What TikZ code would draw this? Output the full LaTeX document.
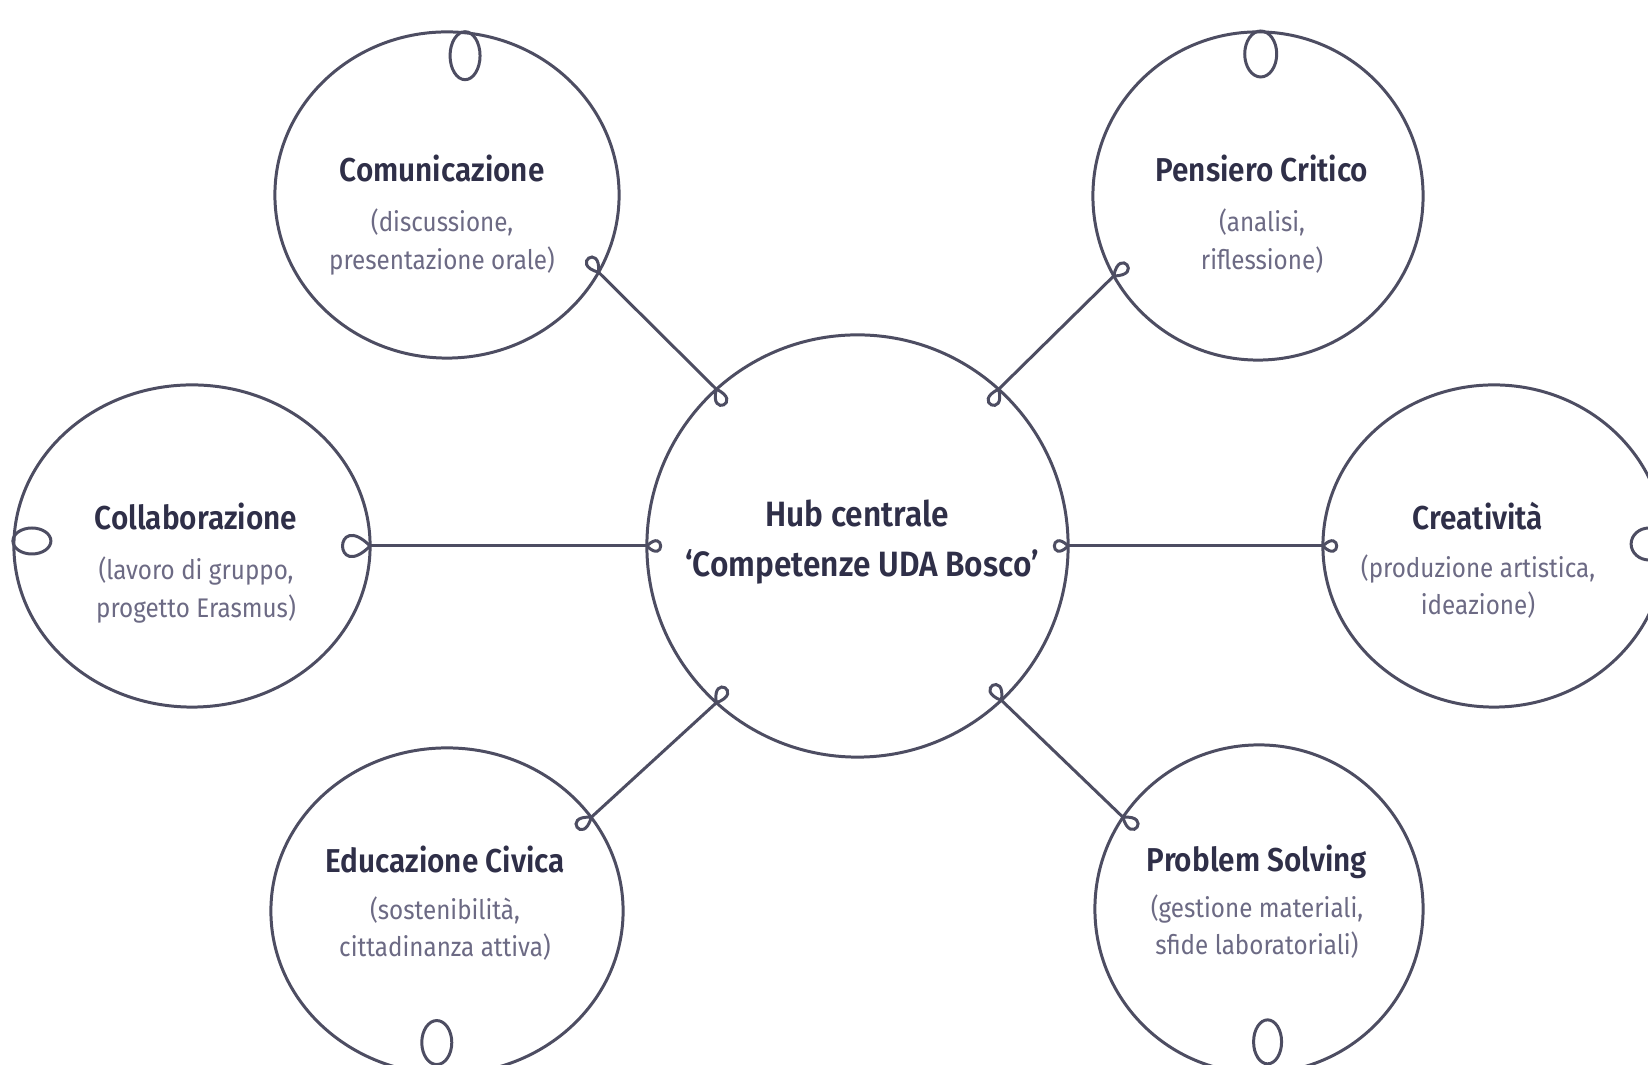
\documentclass[tikz,border=0pt]{standalone}
\usepackage{fontspec}
\IfFontExistsTF{Fira Sans SemiBold}
  {\setmainfont{Fira Sans}[FakeStretch=0.9, BoldFont={Fira Sans SemiBold}]}
  {\setmainfont{Fira Sans}[FakeStretch=0.9]}
\usetikzlibrary{shapes.geometric}
\definecolor{ink}{HTML}{4D4D62}
\definecolor{titlec}{HTML}{2F2F48}
\definecolor{subc}{HTML}{6C6A84}
% #1 point, #2 page angle of the curl, #3 control length, #4 half spread
\newcommand{\myloop}[4]{\draw[ln] (#1) .. controls +({-(#2)+(#4)}:#3) and +({-(#2)-(#4)}:#3) .. (#1);}
% #1 point on the border, #2 offset of the curl centre, #3 x radius, #4 y radius
\newcommand{\mycurl}[4]{\draw[ln, shift={(#1)}] (#2) ellipse [x radius=#3, y radius=#4];}
\begin{document}
\begin{tikzpicture}[x=0.01cm, y=-0.01cm,
  ln/.style={draw=ink, line width=0.85pt},
  bub/.style={ellipse, draw=ink, line width=0.85pt, inner sep=0pt, outer sep=0pt},
  ttl/.style={font=\bfseries\fontsize{9.4}{11}\selectfont, text=titlec, anchor=base, inner sep=0pt},
  hubt/.style={font=\bfseries\fontsize{10}{12}\selectfont, text=titlec, anchor=base, inner sep=0pt},
  subtxt/.style={font=\fontsize{7.65}{9}\selectfont, text=subc, anchor=base, inner sep=0pt}]
\clip (0,0) rectangle (1648,1065);
\fill[white] (0,0) rectangle (1648,1065);

% bubbles
\node[bub, minimum width=4.21cm, minimum height=4.22cm] (hub) at (857.5,546) {};
\node[bub, minimum width=3.44cm, minimum height=3.26cm] (com) at (447,195) {};
\node[bub, minimum width=3.30cm, minimum height=3.28cm] (pen) at (1258,196) {};
\node[bub, minimum width=3.56cm, minimum height=3.22cm] (col) at (192,546) {};
\node[bub, minimum width=3.42cm, minimum height=3.22cm] (cre) at (1494,546) {};
\node[bub, minimum width=3.52cm, minimum height=3.26cm] (edu) at (447,911) {};
\node[bub, minimum width=3.28cm, minimum height=3.28cm] (pro) at (1259,909) {};

% connectors
\draw[ln] (com.-27) -- (hub.132);
\draw[ln] (pen.209) -- (hub.48);
\draw[ln] (col.east) -- (hub.west);
\draw[ln] (hub.east) -- (cre.west);
\draw[ln] (edu.33) -- (hub.228);
\draw[ln] (pro.146) -- (hub.313);

% small curls at the junctions
\myloop{com.-27}{125}{30}{40}
\myloop{hub.132}{-65}{30}{40}
\myloop{pen.209}{40}{30}{40}
\myloop{hub.48}{-115}{30}{40}
\myloop{col.east}{180}{52}{45}
\myloop{hub.west}{0}{26}{45}
\myloop{hub.east}{180}{26}{45}
\myloop{cre.west}{0}{26}{45}
\myloop{edu.33}{215}{30}{40}
\myloop{hub.228}{60}{30}{40}
\myloop{pro.146}{-35}{30}{40}
\myloop{hub.313}{120}{30}{40}

% big curls
\mycurl{com.84}{1,23}{15}{24}
\mycurl{pen.88}{-3,22}{16}{23}
\mycurl{col.west}{18,-5}{19}{13}
\mycurl{cre.east}{-16,-2}{18}{16}
\mycurl{edu.265}{4,-31}{15}{22}
\mycurl{pro.273}{0,-31}{14}{22}

% texts
\node[hubt] (hubT1) at (857,527) {Hub centrale};
\node[hubt] (hubT2) at (862,577) {‘Competenze UDA Bosco’};

\node[ttl] (comT) at (442,182) {Comunicazione};
\node[subtxt] (comS1) at (442,232) {(discussione,};
\node[subtxt] (comS2) at (442,270) {presentazione orale)};

\node[ttl] (penT) at (1262,182) {Pensiero Critico};
\node[subtxt] (penS1) at (1262,232) {(analisi,};
\node[subtxt] (penS2) at (1262,270) {riflessione)};

\node[ttl] (colT) at (196,530) {Collaborazione};
\node[subtxt] (colS1) at (196,580) {(lavoro di gruppo,};
\node[subtxt] (colS2) at (196,618) {progetto Erasmus)};

\node[ttl] (creT) at (1478,530) {Creatività};
\node[subtxt] (creS1) at (1478,578) {(produzione artistica,};
\node[subtxt] (creS2) at (1478,615) {ideazione)};

\node[ttl] (eduT) at (445,873) {Educazione Civica};
\node[subtxt] (eduS1) at (445,920) {(sostenibilità,};
\node[subtxt] (eduS2) at (445,957) {cittadinanza attiva)};

\node[ttl] (proT) at (1257,872) {Problem Solving};
\node[subtxt] (proS1) at (1257,918) {(gestione materiali,};
\node[subtxt] (proS2) at (1257,955) {sfide laboratoriali)};
\end{tikzpicture}
\end{document}
